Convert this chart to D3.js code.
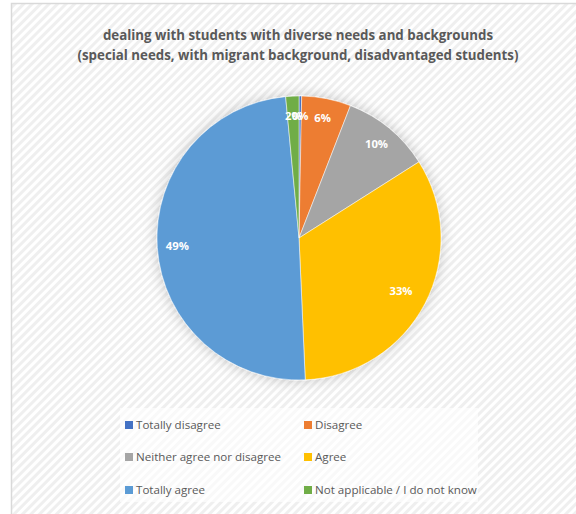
<!DOCTYPE html>
<html>
<head>
<meta charset="utf-8">
<script src="https://cdn.jsdelivr.net/npm/d3@7"></script>
<style>
  html, body { margin: 0; padding: 0; background: #ffffff; }
  svg { display: block; }
</style>
</head>
<body>
<div id="chart"></div>
<script>
const categories = ["Totally disagree", "Disagree", "Neither agree nor disagree", "Agree", "Totally agree", "Not applicable / I do not know"];
const values = [0.3, 5.6, 10.1, 33.3, 49.2, 1.5];
const colors = ["#4472C4", "#ED7D31", "#A5A5A5", "#FFC000", "#5B9BD5", "#70AD47"];
const titleLines = ["dealing with students with diverse needs and backgrounds", "(special needs, with migrant background, disadvantaged students)"];

const W = 576, H = 514;
const svg = d3.select("#chart").append("svg").attr("width", W).attr("height", H);
const defs = svg.append("defs");

const pat = defs.append("pattern")
  .attr("id", "stripes").attr("patternUnits", "userSpaceOnUse")
  .attr("width", 6).attr("height", 6)
  .attr("patternTransform", "rotate(45)");
pat.append("rect").attr("width", 6).attr("height", 6).attr("fill", "#ffffff");
pat.append("rect").attr("width", 3).attr("height", 6).attr("fill", "#efefef");

const shadow = defs.append("filter").attr("id", "shadow")
  .attr("x", "-20%").attr("y", "-20%").attr("width", "140%").attr("height", "140%");
shadow.append("feGaussianBlur").attr("in", "SourceAlpha").attr("stdDeviation", 7).attr("result", "blur");
shadow.append("feFlood").attr("flood-color", "#000").attr("flood-opacity", 0.2).attr("result", "col");
shadow.append("feComposite").attr("in", "col").attr("in2", "blur").attr("operator", "in").attr("result", "sh");
const fm = shadow.append("feMerge");
fm.append("feMergeNode").attr("in", "sh");
fm.append("feMergeNode").attr("in", "SourceGraphic");

// chart area background + border
svg.append("rect").attr("x", 11.5).attr("y", 3.5).attr("width", W).attr("height", H)
  .attr("fill", "url(#stripes)").attr("stroke", "#d9d9d9").attr("stroke-width", 1.5);

// title
const title = svg.append("text").attr("text-anchor", "middle")
  .attr("font-family", "'Open Sans', 'Liberation Sans', sans-serif")
  .attr("font-weight", "bold").attr("font-size", 13.3).attr("fill", "#595959");
titleLines.forEach((t, i) => {
  title.append("tspan").attr("x", 298).attr("y", 40 + i * 20).text(t);
});

// pie
const cx = 299, cy = 238, r = 142;
const pie = d3.pie().sort(null).value(d => d)(values);
const arc = d3.arc().innerRadius(0).outerRadius(r);
const g = svg.append("g").attr("transform", `translate(${cx},${cy})`);
const pieG = g.append("g").attr("filter", "url(#shadow)");
pieG.selectAll("path").data(pie).enter().append("path")
  .attr("d", arc).attr("fill", (d, i) => colors[i])
  .attr("stroke", "#ffffff").attr("stroke-width", 0.5);

const fmt = v => Math.round(v) + "%";
g.selectAll("text.lbl").data(pie).enter().append("text")
  .attr("class", "lbl")
  .attr("transform", d => {
    const rr = d.data > 30 && d.data < 40 ? 115 : 122;
    const a = (d.startAngle + d.endAngle) / 2;
    return `translate(${rr * Math.sin(a)},${-rr * Math.cos(a)})`;
  })
  .attr("text-anchor", "middle").attr("dy", "0.35em")
  .attr("font-family", "'Open Sans', 'Liberation Sans', sans-serif")
  .attr("font-weight", "bold").attr("font-size", 11.3).attr("fill", "#ffffff")
  .text(d => fmt(d.data));

// legend
const lg = svg.append("g");
lg.append("rect").attr("x", 120).attr("y", 408).attr("width", 358).attr("height", 94)
  .attr("fill", "#ffffff").attr("fill-opacity", 0.6);
const colX = [125, 304], rowY = [425, 457, 490];
categories.forEach((c, i) => {
  const x = colX[i % 2], y = rowY[Math.floor(i / 2)];
  lg.append("rect").attr("x", x).attr("y", y - 4).attr("width", 8).attr("height", 8).attr("fill", colors[i]);
  lg.append("text").attr("x", x + 11).attr("y", y).attr("dy", "0.35em")
    .attr("font-family", "'Open Sans', 'Liberation Sans', sans-serif")
    .attr("font-size", 11.6).attr("fill", "#595959").text(c);
});
</script>
</body>
</html>
